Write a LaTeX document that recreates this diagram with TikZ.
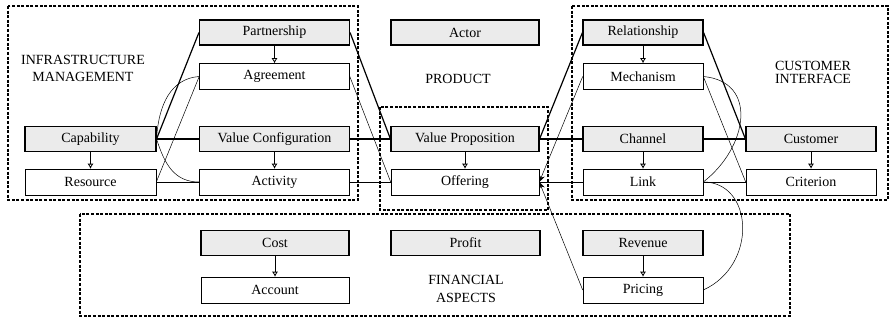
\documentclass[tikz,border=0pt]{standalone}
\usepackage{fontspec}
\setmainfont{Liberation Serif}
\usetikzlibrary{arrows.meta}

\tikzset{
  gbox/.style={draw, line width=1.1pt, fill=gray!16, minimum height=25pt, inner sep=0pt, font=\fontsize{14}{15}\selectfont},
  wbox/.style={draw, line width=0.6pt, fill=white, minimum height=26pt, inner sep=0pt, font=\fontsize{14}{15}\selectfont},
  isa/.style={-{Latex[open,length=5pt,width=6pt]}, line width=0.8pt},
  strong/.style={line width=1.2pt},
  weak/.style={line width=0.5pt},
  tip/.style={-{Stealth[length=7pt,width=6pt]}},
  region/.style={line width=1.6pt, dash pattern=on 3pt off 1.6pt},
  area/.style={align=center, font=\fontsize{14}{17}\selectfont}
}

\begin{document}
\begin{tikzpicture}[x=1pt, y=-1pt]
\useasboundingbox (0,0) rectangle (891,321);

% dashed areas
\draw[region] (8,6) rectangle (358,200);
\draw[region] (380,107) rectangle (548,210);
\draw[region] (572,6) rectangle (888,200);
\draw[region] (80,214) rectangle (790,316);

\node[area] (infralbl) at (83,68) {INFRASTRUCTURE\\MANAGEMENT};
\node[area] (prodlbl) at (458,79) {PRODUCT};
\node[area, align=left, font=\fontsize{14}{13}\selectfont] (custlbl) at (813,72) {CUSTOMER\\INTERFACE};
\node[area, font=\fontsize{14}{18}\selectfont] (finlbl) at (466,289) {FINANCIAL\\ASPECTS};

% concepts
\node[gbox, minimum width=150pt] (partner) at (274.5,32.5) {Partnership};
\node[wbox, minimum width=150pt] (agree) at (274.5,76.5) {Agreement};
\node[gbox, minimum width=148pt] (actor) at (465,32.5) {Actor};
\node[gbox, minimum width=120pt] (relat) at (643,32.5) {Relationship};
\node[wbox, minimum width=120pt] (mech) at (643,76.5) {Mechanism};
\node[gbox, minimum width=131pt] (capab) at (90.5,139) {Capability};
\node[wbox, minimum width=131pt] (resrc) at (90.5,182) {Resource};
\node[gbox, minimum width=150pt] (valconf) at (274.5,139) {Value Configuration};
\node[wbox, minimum width=150pt] (activ) at (274.5,182) {Activity};
\node[gbox, minimum width=148pt] (valprop) at (465,139) {Value Proposition};
\node[wbox, minimum width=148pt] (offer) at (465,182) {Offering};
\node[gbox, minimum width=120pt] (chan) at (643,139) {Channel};
\node[wbox, minimum width=120pt] (link) at (643,182) {Link};
\node[gbox, minimum width=130pt] (cust) at (811,139) {Customer};
\node[wbox, minimum width=130pt] (crit) at (811,182) {Criterion};
\node[gbox, minimum width=148pt] (cost) at (275,243) {Cost};
\node[wbox, minimum width=148pt] (acct) at (275,290) {Account};
\node[gbox, minimum width=149pt] (profit) at (465.5,243) {Profit};
\node[gbox, minimum width=120pt] (rev) at (643,243) {Revenue};
\node[wbox, minimum width=120pt] (pric) at (643,290) {Pricing};

% is-a arrows
\draw[isa] (partner) -- (agree);
\draw[isa] (relat) -- (mech);
\draw[isa] (capab) -- (resrc);
\draw[isa] (valconf) -- (activ);
\draw[isa] (valprop) -- (offer);
\draw[isa] (chan) -- (link);
\draw[isa] (cust) -- (crit);
\draw[isa] (cost) -- (acct);
\draw[isa] (rev) -- (pric);

% infrastructure side
\draw[strong] (capab.east) -- (partner.west);
\draw[strong] (capab.east) -- (valconf.west);
\draw[weak] (resrc.east) -- (agree.west);
\draw[weak] (resrc.east) -- (activ.west);
\draw[weak] (agree.west) .. controls +(-28,2) and +(2,-35) .. (capab.east);
\draw[weak] (capab.east) .. controls +(8,25) and +(-25,0) .. (activ.west);

% towards the product
\draw[strong] (partner.east) -- (valprop.west);
\draw[strong] (valconf.east) -- (valprop.west);
\draw[weak] (agree.east) -- (offer.west);
\draw[weak] (activ.east) -- (offer.west);
\draw[strong] (relat.west) -- (valprop.east);
\draw[strong] (chan.west) -- (valprop.east);
\draw[weak] (link.west) -- (offer.east);
\draw[weak, tip] (mech.west) -- (offer.east);
\draw[weak, tip] (pric.west) -- (offer.east);

% customer side
\draw[strong] (relat.east) -- (cust.west);
\draw[strong] (chan.east) -- (cust.west);
\draw[weak] (mech.east) -- (crit.west);
\draw[weak] (link.east) -- (crit.west);
\draw[weak] (mech.east) .. controls +(55,5) and +(45,-35) .. (link.east);
\draw[weak] (link.east) .. controls +(50,0) and +(55,-25) .. (pric.east);
\end{tikzpicture}
\end{document}
